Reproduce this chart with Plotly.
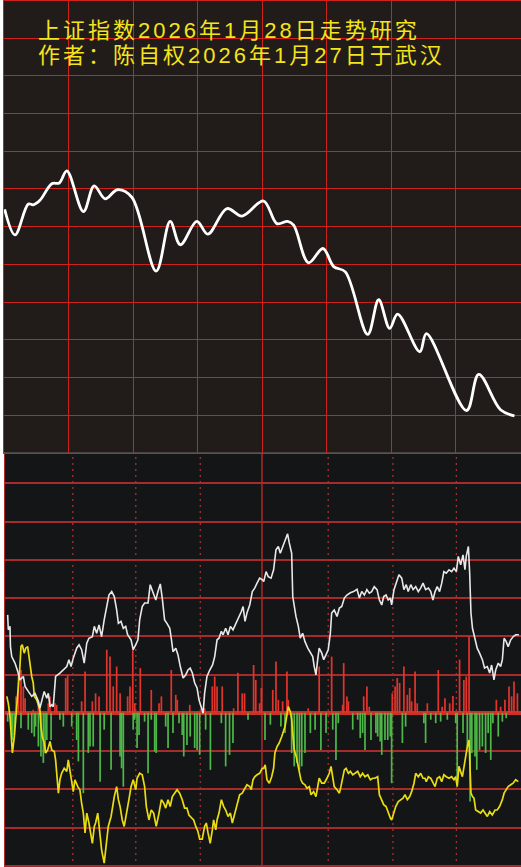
import plotly.graph_objects as go

# ---------------- data ----------------
# Top panel: index trend (minute of session, index level)
top_t = [0.3, 5.1, 11.3, 13.6, 16.7, 22.2, 25.7, 29.2, 36.9, 41.9,
         47.0, 52.7, 59.4, 70.7, 77.2, 81.9, 89.6, 94.7, 103.6, 110.6,
         120.6, 126.8, 131.8, 134.6, 141.5, 148.2, 153.2, 158.6, 169.0, 174.1,
         179.2, 182.9, 193.2, 196.3, 214.9, 220.6, 230.7, 237.2]
top_v = [4152.3, 4148.9, 4153.0, 4152.9, 4153.5, 4155.7, 4155.8, 4157.4, 4152.0, 4155.4,
         4153.7, 4154.9, 4153.9, 4144.1, 4150.7, 4147.6, 4150.7, 4149.0, 4152.4, 4151.4,
         4153.4, 4150.4, 4150.7, 4150.2, 4145.2, 4147.1, 4144.7, 4144.0, 4135.7, 4140.3,
         4136.5, 4138.4, 4133.4, 4135.8, 4125.6, 4130.4, 4125.7, 4124.9]

# Bottom panel: white indicator line
white_t = [1.7, 2.0, 2.8, 3.0, 3.6, 5.1, 6.4, 7.4, 9.0, 9.8,
           11.3, 12.9, 14.4, 16.0, 16.7, 17.8, 18.7, 19.9, 20.6, 21.4,
           22.2, 22.9, 23.4, 24.0, 26.0, 27.6, 29.2, 30.2, 31.2, 32.2,
           33.8, 34.9, 36.1, 37.3, 38.5, 39.5, 41.1, 42.0, 43.1, 44.2,
           45.4, 46.6, 47.8, 48.8, 50.1, 51.3, 52.4, 53.2, 54.4, 55.5,
           56.6, 57.5, 59.1, 60.1, 61.3, 62.3, 63.1, 64.3, 65.4, 67.0,
           68.0, 69.3, 70.6, 71.6, 72.7, 73.6, 74.7, 75.8, 77.1, 77.8,
           78.6, 79.9, 80.9, 82.0, 83.3, 84.5, 85.6, 86.6, 87.6, 88.7,
           89.8, 90.7, 91.8, 92.6, 93.3, 94.4, 95.7, 97.0, 98.0, 99.1,
           100.0, 101.1, 101.9, 103.1, 104.2, 105.3, 106.5, 108.0, 109.3, 110.4,
           111.2, 112.1, 113.0, 114.3, 115.5, 116.6, 117.7, 118.9, 120.1, 120.8,
           121.9, 122.9, 124.2, 125.4, 126.5, 127.6, 128.5, 129.6, 130.7, 131.9,
           132.7, 133.8, 134.3, 135.0, 135.8, 136.9, 137.8, 138.9, 140.0, 141.3,
           142.5, 143.6, 144.3, 145.1, 145.9, 146.6, 147.8, 148.7, 149.8, 150.8,
           151.8, 152.4, 153.6, 154.9, 156.0, 157.1, 158.3, 159.5, 161.1, 162.6,
           164.2, 165.3, 166.4, 167.6, 168.8, 169.9, 171.0, 172.2, 173.5, 174.6,
           175.7, 176.6, 177.7, 178.7, 179.7, 180.3, 181.4, 182.5, 183.7, 185.0,
           186.0, 187.1, 188.0, 189.2, 190.3, 191.5, 192.7, 193.8, 194.9, 196.1,
           197.4, 198.5, 199.5, 200.5, 201.5, 202.6, 203.6, 204.6, 205.7, 207.0,
           208.2, 209.3, 210.4, 211.3, 212.4, 213.5, 214.4, 215.0, 216.0, 216.6,
           217.2, 217.9, 219.1, 220.1, 221.2, 222.5, 223.5, 224.8, 225.9, 226.8,
           227.9, 228.7, 229.9, 231.0, 231.8, 232.6, 233.6, 234.5, 235.7, 236.8,
           238.0, 239.5]
white_v = [25.6, 21.7, 22.6, 17.3, 14.7, 13.0, 10.8, 8.6, 9.5, 6.9,
           5.6, 4.3, 5.1, 3.0, 1.2, 3.4, 5.6, 3.8, 5.1, 1.6,
           2.1, 1.6, 5.6, 9.5, 10.4, 11.2, 12.1, 13.9, 12.1, 14.3,
           16.9, 17.8, 16.5, 13.0, 18.2, 19.5, 19.9, 22.6, 20.8, 23.0,
           19.9, 24.3, 27.8, 30.8, 31.7, 30.4, 26.9, 23.4, 23.9, 22.1,
           22.6, 20.4, 19.1, 16.5, 17.8, 19.1, 24.3, 27.8, 28.7, 28.7,
           33.5, 31.7, 29.5, 31.7, 33.7, 30.0, 24.3, 23.4, 22.1, 19.5,
           16.0, 16.9, 15.2, 12.1, 9.1, 9.9, 11.2, 11.7, 10.4, 7.8,
           6.5, 3.4, 1.2, -0.1, 5.1, 9.5, 11.2, 12.5, 14.7, 19.1,
           19.5, 21.3, 20.4, 22.1, 20.4, 22.6, 21.7, 23.4, 25.2, 26.5,
           27.8, 23.9, 26.1, 28.2, 31.7, 32.6, 33.9, 35.2, 34.8, 34.3,
           36.9, 35.6, 35.2, 37.4, 42.6, 43.5, 41.7, 43.5, 45.2, 46.8,
           44.4, 41.7, 30.4, 27.8, 25.2, 22.6, 19.5, 20.8, 18.6, 16.9,
           15.6, 14.7, 12.1, 9.9, 13.9, 16.9, 15.6, 13.9, 15.2, 16.5,
           20.8, 26.1, 26.9, 25.2, 27.4, 27.8, 30.0, 30.8, 31.4, 31.7,
           32.3, 30.0, 31.7, 30.8, 32.2, 31.3, 31.7, 33.0, 32.2, 29.5,
           28.2, 30.4, 30.8, 29.5, 30.0, 28.2, 32.2, 34.3, 36.1, 35.2,
           32.2, 33.5, 31.7, 33.5, 32.2, 33.0, 31.7, 32.6, 33.9, 32.2,
           32.6, 31.7, 29.5, 31.7, 33.0, 31.7, 33.9, 36.9, 36.5, 37.4,
           36.9, 37.8, 36.9, 40.9, 38.7, 41.3, 37.4, 40.9, 43.5, 36.5,
           26.1, 22.1, 19.1, 16.9, 15.6, 13.9, 11.7, 12.1, 10.4, 12.5,
           8.6, 11.2, 13.0, 12.1, 13.9, 19.5, 18.6, 17.3, 19.1, 19.9,
           20.4, 20.4]

# Bottom panel: yellow indicator line
yellow_t = [1.3, 2.0, 2.8, 3.3, 3.9, 4.8, 5.4, 6.4, 7.0, 7.4,
            7.9, 8.5, 9.4, 10.1, 11.0, 11.6, 12.1, 12.9, 13.6, 14.1,
            15.2, 16.0, 16.7, 17.2, 17.8, 18.7, 19.4, 20.3, 21.4, 22.2,
            23.4, 24.0, 24.5, 25.3, 26.0, 26.8, 28.0, 29.2, 29.9, 30.7,
            31.5, 32.2, 33.0, 34.3, 35.3, 36.1, 36.9, 37.7, 38.5, 39.5,
            40.5, 41.1, 42.0, 42.6, 43.6, 44.7, 45.4, 46.6, 47.8, 48.5,
            49.8, 50.4, 51.3, 52.4, 53.2, 54.0, 55.0, 55.9, 57.1, 58.1,
            59.1, 60.1, 61.3, 61.9, 63.1, 64.3, 65.4, 66.2, 67.4, 68.5,
            69.6, 70.8, 72.1, 73.2, 74.3, 75.2, 76.3, 77.3, 78.3, 79.4,
            80.5, 81.7, 82.9, 84.0, 85.1, 86.0, 87.1, 88.2, 89.2, 90.2,
            91.0, 92.2, 93.3, 94.1, 94.9, 95.9, 96.9, 97.5, 98.5, 99.1,
            100.0, 101.1, 102.2, 103.1, 104.2, 105.3, 106.2, 107.3, 108.4, 109.6,
            110.8, 111.9, 113.0, 114.3, 115.0, 115.8, 116.6, 117.7, 118.9, 120.1,
            120.8, 121.5, 122.3, 123.4, 124.5, 125.4, 126.0, 127.0, 128.0, 129.2,
            130.1, 130.7, 131.6, 132.2, 133.2, 133.8, 134.3, 135.0, 135.9, 136.6,
            137.4, 138.1, 138.9, 140.0, 140.9, 142.0, 142.8, 144.0, 145.1, 145.9,
            146.6, 147.8, 149.0, 150.2, 151.3, 152.1, 152.9, 153.6, 154.9, 156.0,
            156.7, 157.5, 158.3, 159.1, 160.2, 161.1, 162.2, 163.3, 164.5, 165.7,
            166.8, 167.9, 169.2, 170.4, 171.5, 172.5, 173.8, 174.6, 175.7, 176.6,
            177.7, 178.7, 179.7, 180.3, 181.4, 182.2, 183.4, 184.5, 185.6, 186.5,
            187.6, 188.7, 189.6, 190.7, 191.5, 192.7, 193.8, 194.9, 195.8, 196.4,
            197.4, 198.5, 199.5, 200.5, 201.5, 202.6, 203.6, 204.6, 205.7, 207.0,
            208.2, 209.3, 210.1, 210.8, 211.6, 212.4, 213.2, 214.0, 214.8, 215.5,
            216.3, 216.7, 217.2, 217.9, 218.6, 219.4, 220.6, 221.7, 222.8, 223.7,
            224.8, 225.9, 227.1, 228.4, 229.4, 230.5, 231.8, 232.6, 233.6, 234.5,
            235.7, 236.8, 238.0, 239.2]
yellow_v = [4.3, 2.5, -1.0, -7.1, -10.5, -6.2, -1.8, 3.4, 8.6, 12.1,
            17.3, 17.8, 15.6, 16.9, 17.3, 14.7, 12.1, 9.5, 7.8, 4.3,
            3.4, 2.1, 0.8, -3.6, -6.2, -7.9, -10.5, -9.7, -7.5, -9.7,
            -10.1, -12.3, -16.7, -21.0, -17.5, -15.8, -14.5, -15.3, -12.3, -15.8,
            -18.0, -20.6, -17.5, -19.3, -20.1, -23.6, -26.2, -31.4, -26.2, -28.8,
            -32.3, -34.1, -29.7, -28.8, -26.2, -31.4, -35.8, -39.3, -33.2, -29.7,
            -27.1, -24.5, -21.9, -19.3, -22.7, -24.5, -28.0, -29.7, -26.2, -22.7,
            -19.3, -17.5, -20.1, -17.1, -15.8, -16.2, -19.3, -24.5, -28.0, -25.4,
            -26.2, -29.7, -26.2, -22.7, -23.6, -24.9, -22.7, -24.5, -21.9, -21.0,
            -20.1, -21.0, -22.7, -24.9, -24.9, -26.7, -27.5, -28.0, -29.7, -31.0,
            -33.0, -33.0, -29.7, -28.8, -31.4, -34.1, -30.6, -28.0, -30.6, -28.0,
            -26.2, -22.7, -24.5, -25.4, -27.1, -26.2, -28.8, -26.2, -23.6, -21.4,
            -21.0, -19.7, -18.8, -19.3, -20.1, -17.5, -16.7, -16.2, -15.8, -14.5,
            -14.5, -13.6, -17.5, -18.4, -16.7, -14.5, -10.5, -8.8, -7.9, -6.2,
            -4.4, -3.6, -0.5, 1.6, 0.3, -1.8, -5.3, -9.7, -11.4, -13.1,
            -15.8, -17.5, -18.4, -18.8, -19.7, -19.3, -21.4, -20.6, -21.9, -19.3,
            -17.1, -18.4, -18.4, -17.1, -15.8, -14.0, -16.7, -19.3, -20.1, -21.0,
            -19.3, -17.5, -14.9, -14.5, -15.8, -15.3, -16.2, -15.8, -15.3, -16.7,
            -15.8, -16.7, -16.2, -17.5, -17.1, -17.1, -16.7, -21.4, -22.7, -24.0,
            -24.5, -26.2, -27.5, -28.0, -25.8, -24.5, -23.2, -22.7, -22.3, -21.4,
            -22.7, -21.9, -20.6, -18.4, -15.8, -16.7, -15.8, -17.1, -17.1, -18.0,
            -16.7, -17.1, -18.4, -19.3, -17.1, -16.7, -18.0, -16.2, -16.7, -17.1,
            -16.7, -17.5, -16.7, -19.3, -14.0, -15.3, -16.7, -14.0, -11.0, -8.8,
            -7.1, -14.0, -21.0, -21.9, -22.3, -25.4, -25.8, -26.2, -25.4, -26.2,
            -27.1, -25.8, -26.7, -25.4, -25.4, -24.5, -22.7, -21.0, -20.1, -19.3,
            -18.8, -18.4, -17.5, -18.0]

# Bottom panel: red (positive) bars
red_t = [5.6, 6.7, 7.9, 9.0, 9.8, 13.6, 16.0, 20.6, 21.4, 23.7,
         24.5, 28.7, 29.6, 36.1, 37.7, 41.1, 42.6, 44.2, 47.8, 49.3,
         50.8, 52.4, 54.0, 57.5, 58.6, 59.9, 60.8, 63.4, 68.5, 72.1,
         73.2, 77.8, 79.9, 80.6, 86.4, 93.3, 96.9, 98.0, 99.1, 101.5,
         106.8, 108.8, 110.8, 111.9, 116.1, 117.1, 118.9, 119.7, 125.0, 126.5,
         127.6, 129.6, 131.6, 132.2, 141.5, 146.6, 152.4, 157.5, 158.0, 159.5,
         160.2, 167.3, 168.8, 169.9, 180.6, 181.9, 182.9, 184.0, 186.0, 187.6,
         188.7, 189.6, 191.2, 192.2, 196.9, 202.0, 203.8, 205.1, 207.3, 208.8,
         211.9, 213.9, 215.0, 216.3, 229.0, 231.0, 233.0, 234.9, 236.1, 237.2,
         238.8]
red_v = [4.3, 9.5, 11.2, 6.9, 3.8, 0.8, 2.5, 2.5, 4.3, 2.5,
         2.1, 9.1, 9.9, 3.0, 10.8, 3.0, 5.1, 4.3, 16.5, 14.7,
         6.9, 12.1, 5.1, 4.3, 6.9, 16.5, 2.5, 11.7, 6.0, 2.5,
         4.3, 11.2, 4.7, 3.4, 2.1, 1.2, 6.9, 9.5, 6.9, 6.9,
         1.2, 10.5, 5.1, 5.1, 12.5, 8.6, 2.5, 6.5, 6.0, 13.4,
         3.4, 3.0, 10.8, 3.4, 1.2, 12.1, 14.7, 2.1, 13.0, 4.3,
         3.0, 4.3, 6.9, 1.6, 5.1, 6.9, 9.1, 7.8, 12.1, 4.7,
         6.5, 3.0, 10.8, 2.5, 2.5, 11.2, 1.6, 3.8, 2.5, 4.4,
         13.9, 8.6, 9.5, 19.9, 3.4, 1.6, 3.4, 6.9, 4.3, 8.2,
         5.1]

# Bottom panel: green (negative) bars
green_t = [1.7, 3.3, 3.9, 4.8, 7.9, 11.3, 12.9, 14.1, 14.7, 16.0,
           17.2, 18.3, 19.1, 19.9, 21.9, 26.0, 27.6, 31.5, 33.8, 34.6,
           36.9, 39.2, 40.0, 41.5, 44.7, 46.6, 49.8, 54.0, 54.7, 55.5,
           60.1, 60.8, 61.9, 62.8, 65.4, 67.0, 68.5, 70.1, 70.8, 75.2,
           76.3, 78.6, 81.4, 82.9, 83.6, 85.1, 86.6, 88.7, 89.8, 91.0,
           93.8, 96.0, 101.1, 103.1, 104.9, 106.5, 113.5, 121.4, 123.9, 128.8,
           130.7, 133.8, 135.0, 136.3, 137.4, 138.5, 140.0, 142.5, 144.7, 147.4,
           149.8, 152.9, 154.4, 155.5, 162.2, 164.5, 165.7, 166.8, 167.9, 170.7,
           173.0, 173.8, 175.0, 175.7, 177.2, 178.5, 179.7, 180.3, 185.3, 186.8,
           195.3, 196.1, 198.5, 200.8, 203.1, 206.2, 210.1, 210.8, 213.5, 215.5,
           216.8, 217.6, 219.1, 219.9, 221.2, 222.5, 224.0, 225.2, 226.4, 227.4,
           229.9, 231.8, 233.6]
green_v = [-2.3, -4.4, -7.1, -5.8, -4.0, -4.4, -5.3, -6.2, -3.6, -8.8,
           -11.4, -13.1, -10.5, -7.1, -7.1, -1.8, -3.6, -3.6, -7.1, -12.7,
           -21.0, -10.5, -8.8, -8.8, -18.0, -4.4, -14.9, -11.4, -14.5, -19.3,
           -4.4, -1.8, -9.2, -5.8, -2.3, -15.8, -1.8, -10.1, -10.5, -3.6,
           -9.2, -5.3, -2.7, -5.8, -11.4, -8.4, -6.2, -9.2, -9.7, -11.0,
           -4.4, -14.9, -2.7, -14.0, -11.0, -7.9, -1.8, -7.1, -3.1, -3.6,
           -5.3, -10.5, -14.0, -13.1, -14.9, -14.0, -10.5, -5.3, -4.4, -9.7,
           -5.3, -4.4, -12.3, -2.7, -4.4, -1.8, -6.6, -5.3, -9.7, -7.1,
           -5.3, -6.2, -7.5, -11.0, -7.1, -7.1, -6.2, -18.4, -7.9, -3.6,
           -2.7, -7.9, -1.8, -2.7, -2.3, -1.8, -2.7, -18.4, -5.3, -8.8,
           -23.2, -10.5, -11.4, -14.9, -9.7, -8.8, -10.5, -5.3, -12.3, -2.7,
           -6.2, -2.3, -1.4]

title_line1 = "上证指数2026年1月28日走势研究"
title_line2 = "作者：陈自权2026年1月27日于武汉"

# ---------------- figure ----------------
W, H = 521, 867


def px(x):
    return x / W


def py(y):
    return 1 - y / H


SPLIT = py(452.7)
TOP_GRID = "#d0221c"
BOT_GRID = "#a82b2b"
TITLE_SPAN = '<span style="font-size:22px;letter-spacing:3px">{}</span>'

fig = go.Figure()

fig.add_trace(go.Scatter(
    x=top_t, y=top_v, mode="lines", xaxis="x", yaxis="y",
    line=dict(color="#ffffff", width=2.8, shape="spline", smoothing=1.0),
    hoverinfo="skip", showlegend=False))

fig.add_trace(go.Bar(
    x=red_t, y=red_v, base=0, width=0.8, xaxis="x2", yaxis="y2",
    marker=dict(color="#e3342c", line=dict(width=0)),
    hoverinfo="skip", showlegend=False))
fig.add_trace(go.Bar(
    x=green_t, y=green_v, base=0, width=0.8, xaxis="x2", yaxis="y2",
    marker=dict(color="#4db848", line=dict(width=0)),
    hoverinfo="skip", showlegend=False))

fig.add_trace(go.Scatter(
    x=yellow_t, y=yellow_v, mode="lines", xaxis="x2", yaxis="y2",
    line=dict(color="#e9dc12", width=1.7),
    hoverinfo="skip", showlegend=False))
fig.add_trace(go.Scatter(
    x=white_t, y=white_v, mode="lines", xaxis="x2", yaxis="y2",
    line=dict(color="#e8e8e8", width=1.6),
    hoverinfo="skip", showlegend=False))

shapes = [
    dict(type="rect", xref="paper", yref="paper", x0=px(4), x1=1, y0=SPLIT, y1=1,
         fillcolor="#211b19", line=dict(width=0), layer="below"),
    dict(type="rect", xref="paper", yref="paper", x0=px(5), x1=1, y0=0, y1=SPLIT,
         fillcolor="#141517", line=dict(width=0), layer="below"),
]
for tv in [32.0, 61.3, 91.3, 150.8, 180.9, 210.4]:
    shapes.append(dict(type="line", xref="x2", yref="paper", x0=tv, x1=tv, y0=0, y1=SPLIT,
                       line=dict(color="#a83030", width=1.3, dash="2px,4px"), layer="below"))
shapes.append(dict(type="line", xref="x2", yref="paper", x0=120.0, x1=120.0, y0=0, y1=SPLIT,
                   line=dict(color="#b02a2a", width=1.5), layer="below"))

fig.update_layout(
    width=W, height=H,
    margin=dict(l=0, r=0, t=0, b=0),
    paper_bgcolor="#ffffff",
    plot_bgcolor="rgba(0,0,0,0)",
    barmode="overlay",
    showlegend=False,
    xaxis=dict(domain=[px(4), px(520.5)], range=[0, 240], anchor="y",
               showgrid=True, gridcolor=TOP_GRID, gridwidth=1, dtick=30, tick0=0,
               showticklabels=False, ticks="", zeroline=False,
               showline=True, linecolor=TOP_GRID, linewidth=1.2, mirror=True),
    yaxis=dict(domain=[SPLIT, py(0.6)], range=[4120, 4180], anchor="x",
               showgrid=True, gridcolor=TOP_GRID, gridwidth=1, dtick=5, tick0=4120,
               showticklabels=False, ticks="", zeroline=False,
               showline=True, linecolor=TOP_GRID, linewidth=1.2, mirror=True),
    xaxis2=dict(domain=[px(5), 1], range=[0.465, 240.47], anchor="y2",
                showgrid=False, showticklabels=False, ticks="", zeroline=False),
    yaxis2=dict(domain=[0, SPLIT], range=[-40.3, 68.0], anchor="x2",
                showgrid=True, gridcolor=BOT_GRID, gridwidth=2, dtick=10, tick0=0,
                showticklabels=False, ticks="",
                zeroline=True, zerolinecolor="#c8302a", zerolinewidth=4,
                showline=True, linecolor="#b02a2a", linewidth=1.5),
    shapes=shapes,
    annotations=[
        dict(text=TITLE_SPAN.format(title_line1) + "<br>" + TITLE_SPAN.format(title_line2),
             xref="paper", yref="paper", x=px(36), y=py(43.5),
             xanchor="left", yanchor="middle", align="left", showarrow=False,
             font=dict(family="Liberation Sans, Noto Sans CJK SC", size=19.3,
                       color="#f4e41a")),
    ],
)

fig.write_html("out.html",
               config={"displayModeBar": False, "staticPlot": True},
               post_script="document.body.style.margin='0';document.body.style.padding='0';")
